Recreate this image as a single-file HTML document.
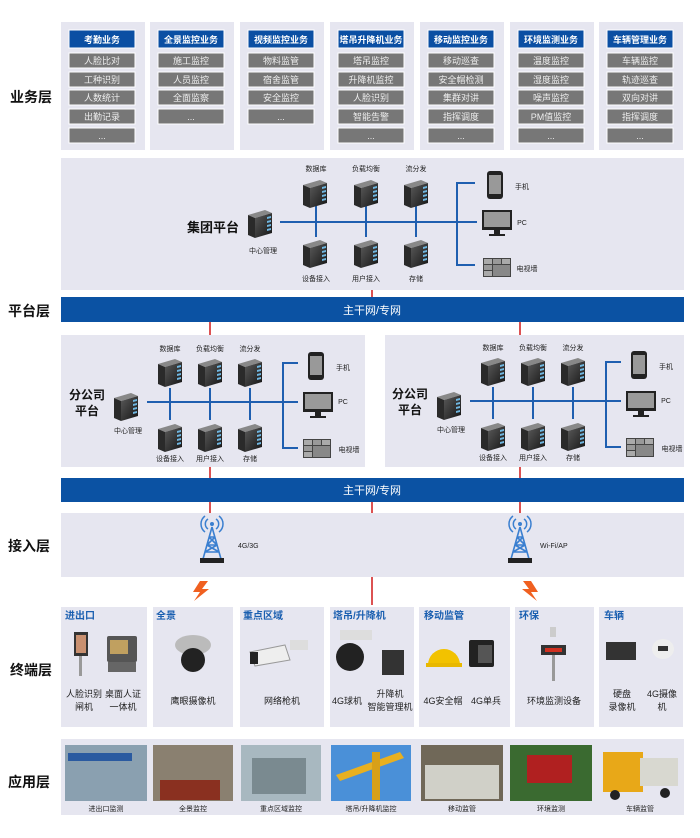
<!DOCTYPE html>
<html><head><meta charset="utf-8"><style>
html,body{margin:0;padding:0;background:#fff;}
svg{display:block;}
text{font-family:"Liberation Sans","Noto Sans CJK SC",sans-serif;}
</style></head><body>
<svg width="700" height="838" viewBox="0 0 700 838" xmlns="http://www.w3.org/2000/svg">
<defs>
<linearGradient id="sf" x1="0" y1="0" x2="1" y2="1"><stop offset="0" stop-color="#5a5a5a"/><stop offset="1" stop-color="#141414"/></linearGradient>
<g id="srv">
<polygon points="0,5 17,0 24,3 7,8" fill="#888"/>
<polygon points="0,5 7,8 7,28 0,25" fill="#2a2a2a"/>
<polygon points="7,8 24,3 24,23 7,28" fill="url(#sf)"/>
<polygon points="19,7 23,6 23,8 19,9" fill="#6fb6e0"/>
<polygon points="19,11 23,10 23,12 19,13" fill="#6fb6e0"/>
<polygon points="19,15 23,14 23,16 19,17" fill="#6fb6e0"/>
<polygon points="19,19 23,18 23,20 19,21" fill="#6fb6e0"/>
</g>
<g id="phone"><rect x="0" y="0" width="16" height="28" rx="3" fill="#222"/><rect x="2" y="4" width="12" height="19" fill="#999"/></g>
<g id="pc"><rect x="0" y="0" width="30" height="20" fill="#222"/><rect x="2" y="2" width="26" height="15" fill="#9a9a9a"/><rect x="12" y="20" width="6" height="4" fill="#222"/><rect x="7" y="24" width="16" height="2" fill="#222"/></g>
<g id="tv"><rect x="0" y="0" width="28" height="19" fill="#444"/><rect x="1" y="1" width="8" height="5" fill="#aaa"/><rect x="10" y="1" width="8" height="5" fill="#999"/><rect x="19" y="1" width="8" height="5" fill="#aaa"/><rect x="1" y="7" width="8" height="5" fill="#999"/><rect x="10" y="7" width="17" height="11" fill="#888"/><rect x="1" y="13" width="8" height="5" fill="#aaa"/></g>
<g id="tower"><path d="M-4,-8 a6,6 0 0 0 0,10 M4,-8 a6,6 0 0 1 0,10 M-7,-11 a10,10 0 0 0 0,16 M7,-11 a10,10 0 0 1 0,16" stroke="#3a7fd0" stroke-width="1.5" fill="none"/><circle cx="0" cy="-3" r="2" fill="#3a7fd0"/><path d="M0,0 L-9,32 M0,0 L9,32 M-3,10 L3,10 M-5,18 L5,18 M-7,25 L7,25 M-3,10 L5,18 M3,10 L-5,18 M-5,18 L7,25 M5,18 L-7,25" stroke="#3a7fd0" stroke-width="1.6" fill="none"/><rect x="-12" y="31" width="24" height="5" fill="#222"/></g>
<g id="bolt"><polygon points="4,0 12,0 6,8 13,8 -2,20 4,11 -3,11" fill="#f06020"/></g>
</defs>

<!-- layer labels -->
<g font-size="14" font-weight="bold" fill="#111">
<text x="10" y="102">业务层</text>
<text x="8" y="316">平台层</text>
<text x="8" y="551">接入层</text>
<text x="10" y="675">终端层</text>
<text x="8" y="787">应用层</text>
</g>

<!-- business layer -->
<g font-size="9" text-anchor="middle">
<g id="bcols"></g>
</g>
<g font-size="9" text-anchor="middle">
<rect x="61" y="22" width="84" height="128" fill="#e6e6f0"/>
<rect x="150" y="22" width="84" height="128" fill="#e6e6f0"/>
<rect x="240" y="22" width="84" height="128" fill="#e6e6f0"/>
<rect x="330" y="22" width="84" height="128" fill="#e6e6f0"/>
<rect x="420" y="22" width="84" height="128" fill="#e6e6f0"/>
<rect x="510" y="22" width="84" height="128" fill="#e6e6f0"/>
<rect x="599" y="22" width="84" height="128" fill="#e6e6f0"/>
<g fill="#0b4fa3" stroke="#fff" stroke-width="1">
<rect x="69" y="30" width="66" height="18"/><rect x="158" y="30" width="66" height="18"/><rect x="248" y="30" width="66" height="18"/><rect x="338" y="30" width="66" height="18"/><rect x="428" y="30" width="66" height="18"/><rect x="518" y="30" width="66" height="18"/><rect x="607" y="30" width="66" height="18"/>
</g>
<g fill="#777" stroke="#fff" stroke-width="1">
<rect x="69" y="53" width="66" height="15"/><rect x="69" y="72" width="66" height="15"/><rect x="69" y="90" width="66" height="15"/><rect x="69" y="109" width="66" height="15"/><rect x="69" y="128" width="66" height="15"/>
<rect x="158" y="53" width="66" height="15"/><rect x="158" y="72" width="66" height="15"/><rect x="158" y="90" width="66" height="15"/><rect x="158" y="109" width="66" height="15"/>
<rect x="248" y="53" width="66" height="15"/><rect x="248" y="72" width="66" height="15"/><rect x="248" y="90" width="66" height="15"/><rect x="248" y="109" width="66" height="15"/>
<rect x="338" y="53" width="66" height="15"/><rect x="338" y="72" width="66" height="15"/><rect x="338" y="90" width="66" height="15"/><rect x="338" y="109" width="66" height="15"/><rect x="338" y="128" width="66" height="15"/>
<rect x="428" y="53" width="66" height="15"/><rect x="428" y="72" width="66" height="15"/><rect x="428" y="90" width="66" height="15"/><rect x="428" y="109" width="66" height="15"/><rect x="428" y="128" width="66" height="15"/>
<rect x="518" y="53" width="66" height="15"/><rect x="518" y="72" width="66" height="15"/><rect x="518" y="90" width="66" height="15"/><rect x="518" y="109" width="66" height="15"/><rect x="518" y="128" width="66" height="15"/>
<rect x="607" y="53" width="66" height="15"/><rect x="607" y="72" width="66" height="15"/><rect x="607" y="90" width="66" height="15"/><rect x="607" y="109" width="66" height="15"/><rect x="607" y="128" width="66" height="15"/>
</g>
<g fill="#fff" font-weight="bold">
<text x="102" y="43">考勤业务</text><text x="191" y="43">全景监控业务</text><text x="281" y="43">视频监控业务</text><text x="371" y="43">塔吊升降机业务</text><text x="461" y="43">移动监控业务</text><text x="551" y="43">环境监测业务</text><text x="640" y="43">车辆管理业务</text>
</g>
<g fill="#eee">
<text x="102" y="64">人脸比对</text><text x="102" y="83">工种识别</text><text x="102" y="101">人数统计</text><text x="102" y="120">出勤记录</text><text x="102" y="139">...</text>
<text x="191" y="64">施工监控</text><text x="191" y="83">人员监控</text><text x="191" y="101">全面监察</text><text x="191" y="120">...</text>
<text x="281" y="64">物料监管</text><text x="281" y="83">宿舍监管</text><text x="281" y="101">安全监控</text><text x="281" y="120">...</text>
<text x="371" y="64">塔吊监控</text><text x="371" y="83">升降机监控</text><text x="371" y="101">人脸识别</text><text x="371" y="120">智能告警</text><text x="371" y="139">...</text>
<text x="461" y="64">移动巡查</text><text x="461" y="83">安全帽检测</text><text x="461" y="101">集群对讲</text><text x="461" y="120">指挥调度</text><text x="461" y="139">...</text>
<text x="551" y="64">温度监控</text><text x="551" y="83">湿度监控</text><text x="551" y="101">噪声监控</text><text x="551" y="120">PM值监控</text><text x="551" y="139">...</text>
<text x="640" y="64">车辆监控</text><text x="640" y="83">轨迹巡查</text><text x="640" y="101">双向对讲</text><text x="640" y="120">指挥调度</text><text x="640" y="139">...</text>
</g>
</g>

<!-- group platform -->
<rect x="61" y="158" width="623" height="132" fill="#e6e6f0"/>
<text x="187" y="232" font-size="13" font-weight="bold" fill="#111">集团平台</text>
<g stroke="#1f5fb0" stroke-width="2" fill="none">
<line x1="280" y1="222" x2="477" y2="222"/>
<line x1="316" y1="205" x2="316" y2="237"/><line x1="366" y1="205" x2="366" y2="237"/><line x1="416" y1="205" x2="416" y2="237"/>
<polyline points="475,183 457,183 457,265 475,265"/>
</g>
<use href="#srv" x="248" y="210"/>
<use href="#srv" x="303" y="180"/><use href="#srv" x="354" y="180"/><use href="#srv" x="404" y="180"/>
<use href="#srv" x="303" y="240"/><use href="#srv" x="354" y="240"/><use href="#srv" x="404" y="240"/>
<use href="#phone" x="487" y="171"/><use href="#pc" x="482" y="210"/><use href="#tv" x="483" y="258"/>
<g font-size="7" fill="#222" text-anchor="middle">
<text x="263" y="253">中心管理</text>
<text x="316" y="171">数据库</text><text x="366" y="171">负载均衡</text><text x="416" y="171">流分发</text>
<text x="316" y="281">设备接入</text><text x="366" y="281">用户接入</text><text x="416" y="281">存储</text>
<text x="522" y="189">手机</text><text x="522" y="225">PC</text><text x="527" y="271">电视墙</text>
</g>

<!-- backbone 1 -->
<rect x="61" y="297" width="623" height="25" fill="#0b52a3"/>
<text x="372" y="314" font-size="11" fill="#fff" text-anchor="middle">主干网/专网</text>

<!-- branches -->
<rect x="61" y="335" width="304" height="132" fill="#e6e6f0"/>
<rect x="385" y="335" width="299" height="132" fill="#e6e6f0"/>
<g id="branch">
<text x="69" y="399" font-size="12" font-weight="bold" fill="#111">分公司</text>
<text x="75" y="415" font-size="12" font-weight="bold" fill="#111">平台</text>
<g stroke="#1f5fb0" stroke-width="2" fill="none">
<line x1="147" y1="402" x2="298" y2="402"/>
<line x1="170" y1="388" x2="170" y2="420"/><line x1="210" y1="388" x2="210" y2="420"/><line x1="250" y1="388" x2="250" y2="420"/>
<polyline points="298,363 283,363 283,448 298,448"/>
</g>
<use href="#srv" x="114" y="393"/>
<use href="#srv" x="158" y="359"/><use href="#srv" x="198" y="359"/><use href="#srv" x="238" y="359"/>
<use href="#srv" x="158" y="424"/><use href="#srv" x="198" y="424"/><use href="#srv" x="238" y="424"/>
<use href="#phone" x="308" y="352"/><use href="#pc" x="303" y="392"/><use href="#tv" x="303" y="439"/>
<g font-size="7" fill="#222" text-anchor="middle">
<text x="128" y="433">中心管理</text>
<text x="170" y="351">数据库</text><text x="210" y="351">负载均衡</text><text x="250" y="351">流分发</text>
<text x="170" y="461">设备接入</text><text x="210" y="461">用户接入</text><text x="250" y="461">存储</text>
<text x="343" y="370">手机</text><text x="343" y="404">PC</text><text x="349" y="452">电视墙</text>
</g>
</g>
<use href="#branch" x="323" y="-1"/>

<!-- backbone 2 -->
<rect x="61" y="478" width="623" height="24" fill="#0b52a3"/>
<text x="372" y="494" font-size="11" fill="#fff" text-anchor="middle">主干网/专网</text>

<!-- red lines -->
<g stroke="#d01818" stroke-width="1.5">
<line x1="372" y1="290" x2="372" y2="297"/>
<line x1="210" y1="322" x2="210" y2="335"/><line x1="520" y1="322" x2="520" y2="335"/>
<line x1="210" y1="467" x2="210" y2="478"/><line x1="520" y1="467" x2="520" y2="478"/>
<line x1="210" y1="502" x2="210" y2="513"/><line x1="372" y1="502" x2="372" y2="513"/><line x1="520" y1="502" x2="520" y2="513"/>
<line x1="372" y1="577" x2="372" y2="605"/>
</g>

<!-- access layer -->
<rect x="61" y="513" width="623" height="64" fill="#e6e6f0"/>
<use href="#tower" x="212" y="527"/>
<use href="#tower" x="520" y="527"/>
<text x="238" y="548" font-size="7" fill="#222">4G/3G</text>
<text x="540" y="548" font-size="7" fill="#222">Wi-Fi/AP</text>
<use href="#bolt" x="196" y="581"/>
<use href="#bolt" x="530" y="581" transform="translate(1065,0) scale(-1,1)"/>

<!-- terminal layer -->
<g fill="#e6e6f0">
<rect x="61" y="607" width="86" height="120"/><rect x="153" y="607" width="80" height="120"/><rect x="240" y="607" width="84" height="120"/><rect x="330" y="607" width="84" height="120"/><rect x="419" y="607" width="91" height="120"/><rect x="515" y="607" width="79" height="120"/><rect x="599" y="607" width="84" height="120"/>
</g>
<g font-size="10" font-weight="bold" fill="#1a5fb0">
<text x="65" y="619">进出口</text><text x="156" y="619">全景</text><text x="243" y="619">重点区域</text><text x="333" y="619">塔吊/升降机</text><text x="424" y="619">移动监管</text><text x="519" y="619">环保</text><text x="604" y="619">车辆</text>
</g>
<!-- device images -->
<rect x="74" y="632" width="14" height="24" fill="#333"/><rect x="76" y="635" width="10" height="18" fill="#c99070"/><rect x="79" y="656" width="3" height="20" fill="#999"/>
<rect x="107" y="636" width="30" height="26" rx="2" fill="#555"/><rect x="110" y="640" width="18" height="14" fill="#c0a060"/><rect x="108" y="662" width="28" height="10" fill="#666"/>
<ellipse cx="193" cy="645" rx="18" ry="10" fill="#bbb"/><circle cx="193" cy="660" r="12" fill="#222"/>
<polygon points="250,652 285,645 290,660 255,666" fill="#eee" stroke="#999"/><rect x="250" y="652" width="8" height="12" fill="#222"/><rect x="290" y="640" width="18" height="10" fill="#ddd"/>
<circle cx="350" cy="657" r="14" fill="#222"/><rect x="340" y="630" width="32" height="10" fill="#ddd"/><rect x="382" y="650" width="22" height="25" fill="#333"/>
<path d="M428,665 a16,16 0 0 1 32,0 z" fill="#f2c200"/><rect x="426" y="663" width="36" height="4" fill="#e8b800"/>
<rect x="469" y="640" width="25" height="27" rx="2" fill="#222"/><rect x="478" y="645" width="14" height="18" fill="#555"/>
<rect x="550" y="627" width="6" height="10" fill="#ccc"/><rect x="541" y="645" width="25" height="10" fill="#333"/><rect x="545" y="648" width="17" height="4" fill="#d03020"/><rect x="552" y="655" width="3" height="26" fill="#999"/>
<rect x="606" y="642" width="30" height="18" fill="#333"/><ellipse cx="663" cy="649" rx="11" ry="10" fill="#eee"/><rect x="658" y="646" width="10" height="5" fill="#333"/>
<g font-size="9" fill="#222" text-anchor="middle">
<text x="84" y="697">人脸识别</text><text x="84" y="710">闸机</text>
<text x="123" y="697">桌面人证</text><text x="123" y="710">一体机</text>
<text x="193" y="704">鹰眼摄像机</text>
<text x="282" y="704">网络枪机</text>
<text x="347" y="704">4G球机</text>
<text x="390" y="697">升降机</text><text x="390" y="710">智能管理机</text>
<text x="443" y="704">4G安全帽</text><text x="486" y="704">4G单兵</text>
<text x="554" y="704">环境监测设备</text>
<text x="622" y="697">硬盘</text><text x="622" y="710">录像机</text>
<text x="662" y="697">4G摄像</text><text x="662" y="710">机</text>
</g>

<!-- application layer -->
<rect x="61" y="739" width="623" height="76" fill="#e6e6f0"/>
<rect x="65" y="745" width="82" height="56" fill="#8aa0b0"/><rect x="68" y="753" width="64" height="8" fill="#2a5aa0"/>
<rect x="153" y="745" width="80" height="56" fill="#8a8070"/><rect x="160" y="780" width="60" height="20" fill="#8a3020"/>
<rect x="241" y="745" width="80" height="56" fill="#a8b8c0"/><rect x="252" y="758" width="54" height="36" fill="#7a8a90"/>
<rect x="331" y="745" width="80" height="56" fill="#4a90d8"/><polygon points="336,775 400,752 404,758 340,781" fill="#e8b020"/><rect x="372" y="752" width="8" height="48" fill="#d8a018"/>
<rect x="421" y="745" width="82" height="56" fill="#706858"/><rect x="425" y="765" width="74" height="34" fill="#d0d0c8"/>
<rect x="510" y="745" width="82" height="56" fill="#3a6a30"/><rect x="527" y="755" width="45" height="28" fill="#b02020"/>
<rect x="603" y="752" width="40" height="40" fill="#e8a818"/><rect x="640" y="758" width="38" height="28" fill="#d8d8d0"/><circle cx="615" cy="795" r="5" fill="#222"/><circle cx="665" cy="793" r="5" fill="#222"/>
<g font-size="7" fill="#222" text-anchor="middle">
<text x="106" y="811">进出口监测</text><text x="193" y="811">全景监控</text><text x="281" y="811">重点区域监控</text><text x="371" y="811">塔吊/升降机监控</text><text x="462" y="811">移动监管</text><text x="551" y="811">环境监测</text><text x="640" y="811">车辆监管</text>
</g>
</svg>
</body></html>
